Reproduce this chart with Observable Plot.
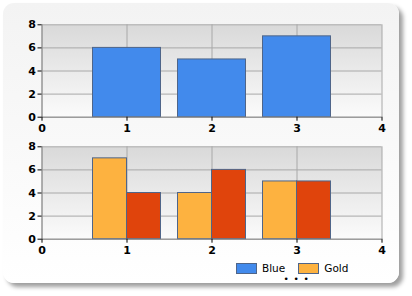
<!DOCTYPE html>
<html><head>
<meta charset="utf-8">
<script src="https://cdn.jsdelivr.net/npm/d3@7"></script>
<script src="https://cdn.jsdelivr.net/npm/@observablehq/plot@0.6"></script>
<style>
html,body{margin:0;padding:0;background:#fff;}
#root{position:relative;width:412px;height:296px;overflow:hidden;font-family:"DejaVu Sans",sans-serif;}
#panel{position:absolute;left:3px;top:3px;width:396px;height:280px;border-radius:11px;
  background:linear-gradient(#f3f3f3,#ffffff);box-shadow:4px 4px 4px rgba(0,0,0,0.38);}
.chart{position:absolute;left:0;}
#legend{position:absolute;left:236px;top:263px;font-size:10.5px;line-height:11px;color:#000;display:flex;align-items:center;}
.sw{display:inline-block;width:19px;height:9px;border:1px solid #4f6589;margin-right:5px;}
.item{display:flex;align-items:center;margin-right:13px;}
.dot{position:absolute;top:276px;font-size:9px;line-height:6px;height:6px;}
</style>
</head><body>
<div id="root"><div id="panel"></div><div id="legend"></div>
<span class="dot" style="left:283.5px">•</span><span class="dot" style="left:293.5px">•</span><span class="dot" style="left:303.5px">•</span></div>
<script>
const xTicks = [0, 1, 2, 3, 4];
const yTicks = [0, 2, 4, 6, 8];
const categories = [1, 2, 3];
const blueValues = [6, 5, 7];
const goldValues = [7, 4, 5];
const redValues = [4, 6, 5];
const legendLabels = ["Blue", "Gold"];
const colors = {Blue: "#428aec", Gold: "#fdb240", Red: "#e0440c"};
const strokeColor = "#4f6589";

const topData = categories.map((c, i) => ({x: c, v: blueValues[i]}));
const goldData = categories.map((c, i) => ({x: c, v: goldValues[i]}));
const redData = categories.map((c, i) => ({x: c, v: redValues[i]}));

function makeChart(barMarks, gid) {
  const svg = Plot.plot({
    width: 412, height: 140,
    marginLeft: 41.5, marginRight: 30.5, marginTop: 24.3, marginBottom: 23.3,
    style: {fontFamily: "DejaVu Sans", fontSize: "11px", fontWeight: "bold", color: "#000", background: "transparent"},
    x: {domain: [0, 4]},
    y: {domain: [0, 8]},
    marks: [
      Plot.frame({fill: `url(#${gid})`, stroke: "none"}),
      Plot.gridY(yTicks, {stroke: "#a8a8a8", strokeOpacity: 1}),
      Plot.gridX(xTicks, {stroke: "#a8a8a8", strokeOpacity: 1}),
      ...barMarks,
      Plot.ruleX([0], {stroke: "#8c8c8c"}),
      Plot.ruleY([0], {stroke: "#8c8c8c"}),
      Plot.axisY(yTicks, {tickSize: 4, tickPadding: 2, label: null, stroke: "#000", fill: "#000"}),
      Plot.axisX(xTicks, {tickSize: 4, tickPadding: 3, label: null, stroke: "#000", fill: "#000"})
    ]
  });
  const g = d3.select(svg).insert("defs", ":first-child")
    .append("linearGradient").attr("id", gid).attr("x1", 0).attr("y1", 0).attr("x2", 0).attr("y2", 1);
  g.append("stop").attr("offset", "0%").attr("stop-color", "#d9d9d9");
  g.append("stop").attr("offset", "100%").attr("stop-color", "#fbfbfb");
  return svg;
}

const top1 = makeChart([
  Plot.rectY(topData, {x1: d => d.x - 0.4, x2: d => d.x + 0.4, y: "v", fill: colors.Blue, stroke: strokeColor, strokeWidth: 1})
], "g1");
top1.classList.add("chart"); top1.style.top = "0px";

const bot = makeChart([
  Plot.rectY(goldData, {x1: d => d.x - 0.4, x2: d => d.x, y: "v", fill: colors.Gold, stroke: strokeColor, strokeWidth: 1}),
  Plot.rectY(redData, {x1: d => d.x, x2: d => d.x + 0.4, y: "v", fill: colors.Red, stroke: strokeColor, strokeWidth: 1})
], "g2");
bot.classList.add("chart"); bot.style.top = "121.7px";

const root = document.getElementById("root");
root.insertBefore(top1, document.getElementById("legend"));
root.insertBefore(bot, document.getElementById("legend"));

const legend = d3.select("#legend");
legendLabels.forEach(l => {
  const it = legend.append("div").attr("class", "item");
  it.append("span").attr("class", "sw").style("background", colors[l]);
  it.append("span").text(l);
});
</script>
</body></html>
